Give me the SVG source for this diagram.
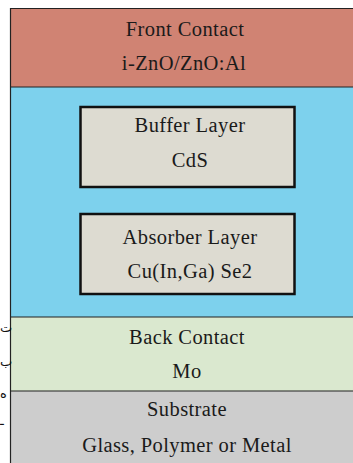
<svg xmlns="http://www.w3.org/2000/svg" width="353" height="463" viewBox="0 0 353 463">
<style>
.t{font-family:"Liberation Serif","DejaVu Serif",serif;font-size:20.5px;letter-spacing:0.4px;fill:#1a1a1a;text-anchor:middle}
.box{fill:#DDDBD1;stroke:#111;stroke-width:2.5}
.edge{stroke:#222;stroke-width:1.2;fill:none}
.ar{font-family:"DejaVu Sans",sans-serif;font-size:13px;fill:#111}
</style>
<rect width="353" height="463" fill="#fff"/>
<g id="front-contact">
<rect x="10.5" y="8.5" width="343" height="78.5" fill="#D08373"/>
<text class="t" x="185" y="36">Front Contact</text>
<text class="t" x="184" y="70">i-ZnO/ZnO:Al</text>
</g>
<g id="window-layer">
<rect x="10.5" y="87" width="343" height="230" fill="#7DD1ED"/>
</g>
<g id="buffer-layer">
<rect class="box" x="80.5" y="107" width="214" height="80"/>
<text class="t" x="190" y="132">Buffer Layer</text>
<text class="t" x="190" y="167">CdS</text>
</g>
<g id="absorber-layer">
<rect class="box" x="80.5" y="214" width="214" height="80"/>
<text class="t" x="190" y="244">Absorber Layer</text>
<text class="t" x="190" y="278">Cu(In,Ga) Se2</text>
</g>
<g id="back-contact">
<rect x="10.5" y="317" width="343" height="74" fill="#DAE8CF"/>
<text class="t" x="187" y="344">Back Contact</text>
<text class="t" x="187" y="378">Mo</text>
</g>
<g id="substrate">
<rect x="10.5" y="391" width="343" height="72" fill="#CDCDCD"/>
<text class="t" x="187" y="416">Substrate</text>
<text class="t" x="187" y="452">Glass, Polymer or Metal</text>
</g>
<g id="connectors">
<line class="edge" x1="10" y1="8.5" x2="353" y2="8.5" stroke="#555" stroke-width="2"/>
<line class="edge" x1="10.5" y1="8" x2="10.5" y2="463"/>
<line class="edge" x1="10" y1="87" x2="353" y2="87"/>
<line class="edge" x1="10" y1="317" x2="353" y2="317" stroke="#444"/>
<line class="edge" x1="10" y1="391" x2="353" y2="391" stroke="#444"/>
</g>
<g id="margin-text">
<text class="ar" x="0" y="332">ت</text>
<text class="ar" x="0" y="366">ب</text>
<text class="ar" x="0" y="398">ه</text>
<text class="ar" x="0" y="425">ـ</text>
</g>
</svg>
